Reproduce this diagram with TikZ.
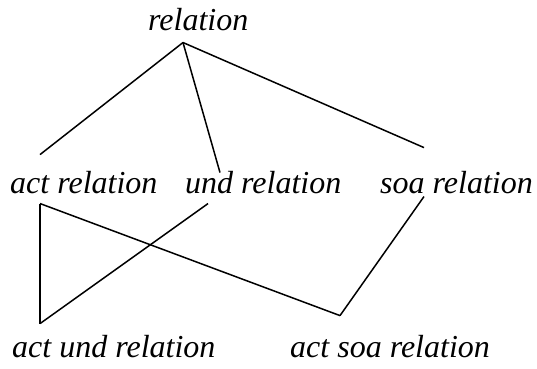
\documentclass[tikz,border=0pt]{standalone}
\usepackage{fontspec}
\setmainfont{Liberation Serif}
\usetikzlibrary{positioning}

\begin{document}
\begin{tikzpicture}[
  x=1pt, y=1pt,
  sort/.style={inner sep=0pt, anchor=base west, font=\fontsize{32}{38}\selectfont\itshape},
  link/.style={line width=1.5pt, black}
]
\useasboundingbox (0,0) rectangle (537,368);

% Top sort
\node[sort] (rel) at (148,338) {relation};

% Middle row
\node[sort] (act) at (10,175) {act relation};
\node[sort] (und) at (185,175) {und relation};
\node[sort] (soa) at (380,175) {soa relation};

% Bottom row
\node[sort] (actund) at (12,11) {act und relation};
\node[sort] (actsoa) at (290,11) {act soa relation};

% Links to the top sort
\draw[link] ([xshift=35pt,yshift=-12pt]rel.south west) -- ([xshift=30pt,yshift=16pt]act.north west);
\draw[link] ([xshift=35pt,yshift=-12pt]rel.south west) -- ([xshift=35pt,yshift=-2pt]und.north west);
\draw[link] ([xshift=35pt,yshift=-12pt]rel.south west) -- ([xshift=44pt,yshift=23pt]soa.north west);

% Links to the bottom sorts
\draw[link] ([xshift=30pt,yshift=-10pt]act.south west) -- ([xshift=28pt,yshift=11pt]actund.north west);
\draw[link] ([xshift=23pt,yshift=-10pt]und.south west) -- ([xshift=28pt,yshift=11pt]actund.north west);
\draw[link] ([xshift=30pt,yshift=-10pt]act.south west) -- ([xshift=50pt,yshift=19pt]actsoa.north west);
\draw[link] ([xshift=44pt,yshift=-3pt]soa.south west) -- ([xshift=50pt,yshift=19pt]actsoa.north west);

\end{tikzpicture}
\end{document}
